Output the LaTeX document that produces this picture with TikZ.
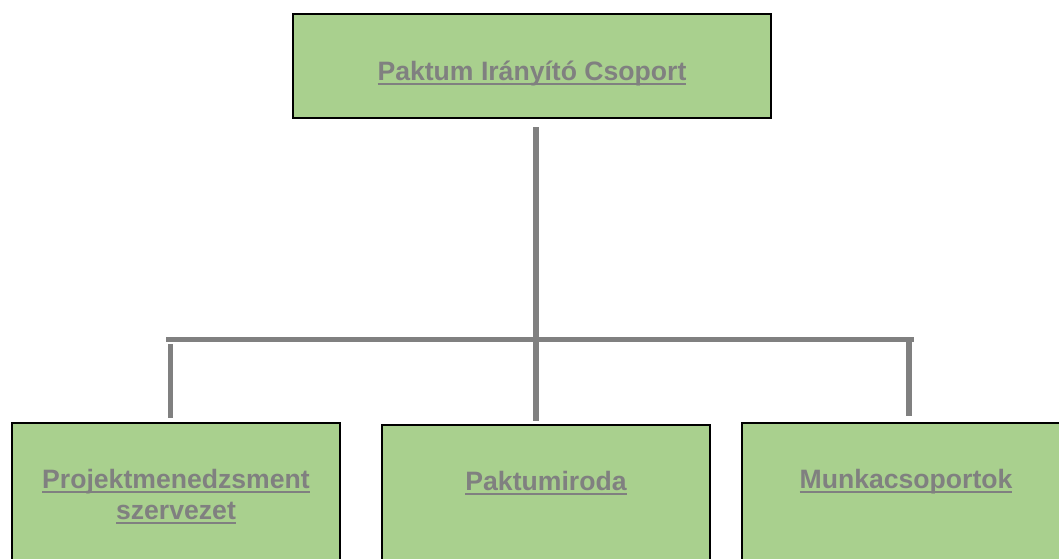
\documentclass[tikz,border=0pt]{standalone}
\usepackage{fontspec}
\setmainfont{Liberation Sans}
\definecolor{boxgreen}{HTML}{A9D08E}
\definecolor{txtgray}{HTML}{808080}
\definecolor{linegray}{HTML}{808080}
\newcommand\myul[1]{\setbox0\hbox{#1}\rlap{\color{txtgray}\rule[-5.3pt]{\wd0}{2.6pt}}\box0}
\begin{document}
\begin{tikzpicture}[x=1pt,y=-1pt,
  box/.style={draw=black,line width=2pt,fill=boxgreen,inner sep=0pt,
    minimum width=328pt,minimum height=177pt},
  lbl/.style={text=txtgray,font=\fontsize{26.6}{31}\selectfont\bfseries,
    align=center,inner sep=0pt,anchor=base},
  conn/.style={draw=linegray,line width=5.5pt}]
\useasboundingbox (0,0) rectangle (1059,558);
\clip (0,0) rectangle (1059,558);
% boxes
\node[box,minimum width=478pt,minimum height=104pt] (top) at (532,66) {};
\node[box] (left) at (176,511.5) {};
\node[box] (mid) at (546,513.5) {};
\node[box] (right) at (906,511.5) {};
% labels
\node[lbl] (ttop) at (532,80) {\myul{Paktum Irányító Csoport}};
\node[lbl] (tleft) at (176,519) {\myul{Projektmenedzsment}\\\myul{szervezet}};
\node[lbl] (tmid) at (546,490) {\myul{Paktumiroda}};
\node[lbl] (tright) at (906,488) {\myul{Munkacsoportok}};
% connector points
\coordinate (v0) at (536,127);
\coordinate (v1) at (536,421);
\coordinate (bl) at (166,339.5);
\coordinate (br) at (914,339.5);
\coordinate (l0) at (170.5,344);
\coordinate (l1) at (170.5,418);
\coordinate (r0) at (909,337);
\coordinate (r1) at (909,416);
% connectors
\draw[conn] (bl) -- (br);
\draw[conn] (v0) -- (v1);
\draw[conn] (l0) -- (l1);
\draw[conn] (r0) -- (r1);
\end{tikzpicture}
\end{document}
